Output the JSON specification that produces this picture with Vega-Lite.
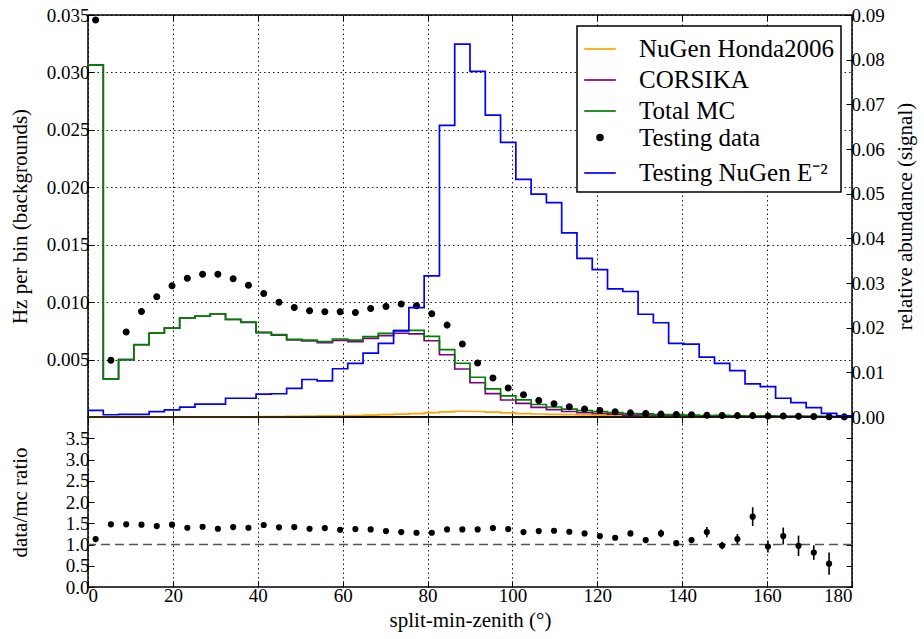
{
  "$schema": "https://vega.github.io/schema/vega-lite/v6.json",
  "padding": {"left": 8, "top": 5, "right": 5, "bottom": 5},
  "bounds": "flush",
  "spacing": 0,
  "datasets": {
    "bins": [
      {"lo": 0, "mid": 1.8, "honda": 0.00001, "corsika": 0.03065, "total": 0.03066, "data": 0.03457, "signal": 0.0015, "ratio": 1.127, "rlo": 1.117, "rhi": 1.137},
      {"lo": 3.6, "mid": 5.4, "honda": 0.00001, "corsika": 0.00331, "total": 0.00332, "data": 0.00494, "signal": 0.0005, "ratio": 1.474, "rlo": 1.45, "rhi": 1.5},
      {"lo": 7.2, "mid": 9.0, "honda": 0.00001, "corsika": 0.00499, "total": 0.005, "data": 0.0074, "signal": 0.0006, "ratio": 1.474, "rlo": 1.455, "rhi": 1.493},
      {"lo": 10.8, "mid": 12.6, "honda": 0.00001, "corsika": 0.00629, "total": 0.0063, "data": 0.00919, "signal": 0.0006, "ratio": 1.466, "rlo": 1.45, "rhi": 1.482},
      {"lo": 14.4, "mid": 16.2, "honda": 0.00001, "corsika": 0.0073, "total": 0.00731, "data": 0.01047, "signal": 0.0012, "ratio": 1.434, "rlo": 1.42, "rhi": 1.448},
      {"lo": 18.0, "mid": 19.8, "honda": 0.00001, "corsika": 0.00773, "total": 0.00774, "data": 0.01142, "signal": 0.0016, "ratio": 1.466, "rlo": 1.452, "rhi": 1.48},
      {"lo": 21.6, "mid": 23.4, "honda": 0.00001, "corsika": 0.0086, "total": 0.00861, "data": 0.01208, "signal": 0.0022, "ratio": 1.395, "rlo": 1.382, "rhi": 1.408},
      {"lo": 25.2, "mid": 27.0, "honda": 0.00001, "corsika": 0.00877, "total": 0.00878, "data": 0.01243, "signal": 0.0029, "ratio": 1.418, "rlo": 1.405, "rhi": 1.431},
      {"lo": 28.8, "mid": 30.6, "honda": 0.00001, "corsika": 0.00898, "total": 0.00899, "data": 0.01243, "signal": 0.0029, "ratio": 1.371, "rlo": 1.358, "rhi": 1.384},
      {"lo": 32.4, "mid": 34.2, "honda": 0.00001, "corsika": 0.00849, "total": 0.0085, "data": 0.01203, "signal": 0.0042, "ratio": 1.41, "rlo": 1.397, "rhi": 1.423},
      {"lo": 36.0, "mid": 37.8, "honda": 0.00002, "corsika": 0.00824, "total": 0.00826, "data": 0.01148, "signal": 0.0042, "ratio": 1.395, "rlo": 1.382, "rhi": 1.408},
      {"lo": 39.6, "mid": 41.4, "honda": 0.00003, "corsika": 0.00734, "total": 0.00737, "data": 0.01076, "signal": 0.0051, "ratio": 1.458, "rlo": 1.444, "rhi": 1.472},
      {"lo": 43.2, "mid": 45.0, "honda": 0.00004, "corsika": 0.00713, "total": 0.00717, "data": 0.01, "signal": 0.0052, "ratio": 1.403, "rlo": 1.389, "rhi": 1.417},
      {"lo": 46.8, "mid": 48.6, "honda": 0.00005, "corsika": 0.00671, "total": 0.00676, "data": 0.00954, "signal": 0.0064, "ratio": 1.41, "rlo": 1.395, "rhi": 1.425},
      {"lo": 50.4, "mid": 52.2, "honda": 0.00007, "corsika": 0.00663, "total": 0.0067, "data": 0.00925, "signal": 0.0084, "ratio": 1.371, "rlo": 1.356, "rhi": 1.386},
      {"lo": 54.0, "mid": 55.8, "honda": 0.00009, "corsika": 0.00647, "total": 0.00656, "data": 0.00917, "signal": 0.0081, "ratio": 1.387, "rlo": 1.372, "rhi": 1.402},
      {"lo": 57.6, "mid": 59.4, "honda": 0.00011, "corsika": 0.00668, "total": 0.00679, "data": 0.00917, "signal": 0.0108, "ratio": 1.348, "rlo": 1.333, "rhi": 1.363},
      {"lo": 61.2, "mid": 63.0, "honda": 0.00013, "corsika": 0.00657, "total": 0.0067, "data": 0.0091, "signal": 0.012, "ratio": 1.363, "rlo": 1.348, "rhi": 1.378},
      {"lo": 64.8, "mid": 66.6, "honda": 0.00016, "corsika": 0.00684, "total": 0.007, "data": 0.00945, "signal": 0.0143, "ratio": 1.355, "rlo": 1.34, "rhi": 1.37},
      {"lo": 68.4, "mid": 70.2, "honda": 0.0002, "corsika": 0.00708, "total": 0.00728, "data": 0.00963, "signal": 0.0165, "ratio": 1.316, "rlo": 1.301, "rhi": 1.331},
      {"lo": 72.0, "mid": 73.8, "honda": 0.00025, "corsika": 0.00729, "total": 0.00754, "data": 0.00983, "signal": 0.0193, "ratio": 1.292, "rlo": 1.277, "rhi": 1.307},
      {"lo": 75.6, "mid": 77.4, "honda": 0.0003, "corsika": 0.00724, "total": 0.00754, "data": 0.00969, "signal": 0.0245, "ratio": 1.277, "rlo": 1.262, "rhi": 1.292},
      {"lo": 79.2, "mid": 81.0, "honda": 0.00038, "corsika": 0.00664, "total": 0.00702, "data": 0.00899, "signal": 0.0316, "ratio": 1.277, "rlo": 1.261, "rhi": 1.293},
      {"lo": 82.8, "mid": 84.6, "honda": 0.00045, "corsika": 0.00542, "total": 0.00587, "data": 0.008, "signal": 0.0653, "ratio": 1.355, "rlo": 1.338, "rhi": 1.372},
      {"lo": 86.4, "mid": 88.2, "honda": 0.0005, "corsika": 0.00418, "total": 0.00468, "data": 0.00635, "signal": 0.0835, "ratio": 1.355, "rlo": 1.336, "rhi": 1.374},
      {"lo": 90.0, "mid": 91.8, "honda": 0.00048, "corsika": 0.00298, "total": 0.00346, "data": 0.0047, "signal": 0.0774, "ratio": 1.355, "rlo": 1.333, "rhi": 1.377},
      {"lo": 93.6, "mid": 95.4, "honda": 0.00042, "corsika": 0.00203, "total": 0.00245, "data": 0.0034, "signal": 0.0676, "ratio": 1.387, "rlo": 1.36, "rhi": 1.414},
      {"lo": 97.2, "mid": 99.0, "honda": 0.00036, "corsika": 0.00148, "total": 0.00184, "data": 0.00253, "signal": 0.0615, "ratio": 1.363, "rlo": 1.333, "rhi": 1.393},
      {"lo": 100.8, "mid": 102.6, "honda": 0.0003, "corsika": 0.00119, "total": 0.00149, "data": 0.00193, "signal": 0.0532, "ratio": 1.292, "rlo": 1.26, "rhi": 1.324},
      {"lo": 104.4, "mid": 106.2, "honda": 0.00026, "corsika": 0.00083, "total": 0.00109, "data": 0.00144, "signal": 0.0499, "ratio": 1.316, "rlo": 1.28, "rhi": 1.352},
      {"lo": 108.0, "mid": 109.8, "honda": 0.00022, "corsika": 0.00065, "total": 0.00087, "data": 0.00115, "signal": 0.048, "ratio": 1.324, "rlo": 1.284, "rhi": 1.364},
      {"lo": 111.6, "mid": 113.4, "honda": 0.0002, "corsika": 0.00048, "total": 0.00068, "data": 0.00089, "signal": 0.0412, "ratio": 1.3, "rlo": 1.255, "rhi": 1.345},
      {"lo": 115.2, "mid": 117.0, "honda": 0.00018, "corsika": 0.00037, "total": 0.00055, "data": 0.00069, "signal": 0.0355, "ratio": 1.261, "rlo": 1.21, "rhi": 1.312},
      {"lo": 118.8, "mid": 120.6, "honda": 0.00016, "corsika": 0.00032, "total": 0.00048, "data": 0.00057, "signal": 0.033, "ratio": 1.198, "rlo": 1.143, "rhi": 1.253},
      {"lo": 122.4, "mid": 124.2, "honda": 0.00014, "corsika": 0.00025, "total": 0.00039, "data": 0.00045, "signal": 0.0287, "ratio": 1.158, "rlo": 1.098, "rhi": 1.218},
      {"lo": 126.0, "mid": 127.8, "honda": 0.00012, "corsika": 0.00017, "total": 0.00029, "data": 0.00036, "signal": 0.0281, "ratio": 1.261, "rlo": 1.196, "rhi": 1.326},
      {"lo": 129.6, "mid": 131.4, "honda": 0.0001, "corsika": 0.00018, "total": 0.00028, "data": 0.00031, "signal": 0.023, "ratio": 1.103, "rlo": 1.033, "rhi": 1.173},
      {"lo": 133.2, "mid": 135.0, "honda": 0.00008, "corsika": 0.00012, "total": 0.0002, "data": 0.00025, "signal": 0.0211, "ratio": 1.261, "rlo": 1.171, "rhi": 1.351},
      {"lo": 136.8, "mid": 138.6, "honda": 0.00007, "corsika": 0.00014, "total": 0.00021, "data": 0.00022, "signal": 0.0165, "ratio": 1.032, "rlo": 0.982, "rhi": 1.082},
      {"lo": 140.4, "mid": 142.2, "honda": 0.00006, "corsika": 0.00011, "total": 0.00017, "data": 0.00019, "signal": 0.0163, "ratio": 1.103, "rlo": 1.043, "rhi": 1.163},
      {"lo": 144.0, "mid": 145.8, "honda": 0.00005, "corsika": 0.000074, "total": 0.000124, "data": 0.00016, "signal": 0.0134, "ratio": 1.292, "rlo": 1.172, "rhi": 1.412},
      {"lo": 147.6, "mid": 149.4, "honda": 0.00004, "corsika": 0.000103, "total": 0.000143, "data": 0.00014, "signal": 0.012, "ratio": 0.977, "rlo": 0.887, "rhi": 1.067},
      {"lo": 151.2, "mid": 153.0, "honda": 0.00003, "corsika": 0.000076, "total": 0.000106, "data": 0.00012, "signal": 0.0104, "ratio": 1.127, "rlo": 1.007, "rhi": 1.247},
      {"lo": 154.8, "mid": 156.6, "honda": 0.000025, "corsika": 0.000048, "total": 0.000073, "data": 0.00012, "signal": 0.0074, "ratio": 1.655, "rlo": 1.435, "rhi": 1.875},
      {"lo": 158.4, "mid": 160.2, "honda": 0.00002, "corsika": 0.000074, "total": 0.000094, "data": 0.00009, "signal": 0.0068, "ratio": 0.953, "rlo": 0.813, "rhi": 1.093},
      {"lo": 162.0, "mid": 163.8, "honda": 0.000015, "corsika": 0.000052, "total": 0.000067, "data": 0.00008, "signal": 0.0042, "ratio": 1.198, "rlo": 0.998, "rhi": 1.398},
      {"lo": 165.6, "mid": 167.4, "honda": 0.000012, "corsika": 0.00005, "total": 0.000062, "data": 0.00006, "signal": 0.0032, "ratio": 0.969, "rlo": 0.729, "rhi": 1.209},
      {"lo": 169.2, "mid": 171.0, "honda": 0.00001, "corsika": 0.000039, "total": 0.000049, "data": 0.00004, "signal": 0.0021, "ratio": 0.81, "rlo": 0.64, "rhi": 0.98},
      {"lo": 172.8, "mid": 174.6, "honda": 0.000008, "corsika": 0.000037, "total": 0.000045, "data": 0.000025, "signal": 0.0008, "ratio": 0.55, "rlo": 0.29, "rhi": 0.81},
      {"lo": 176.4, "mid": 178.2, "honda": 0.000005, "corsika": 0.000015, "total": 0.00002, "data": 0.00001, "signal": 0.00025, "ratio": null, "rlo": null, "rhi": null},
      {"lo": 180, "mid": null, "honda": 0.000005, "corsika": 0.000015, "total": 0.00002, "data": null, "signal": 0.00025, "ratio": null, "rlo": null, "rhi": null}
    ]
  },
  "vconcat": [
    {
      "width": 764,
      "height": 402,
      "layer": [
        {
          "layer": [
            {
              "data": {"name": "bins"},
              "mark": {"type": "line", "interpolate": "step-after", "strokeWidth": 1.7, "color": "#FFA500"},
              "encoding": {
                "x": {"field": "lo", "type": "quantitative", "scale": {"domain": [0, 180], "nice": false, "zero": false},
                  "axis": {"orient": "bottom", "title": null, "labels": false, "values": [0, 20, 40, 60, 80, 100, 120, 140, 160, 180], "grid": true}},
                "y": {"field": "honda", "type": "quantitative", "scale": {"domain": [0, 0.035], "nice": false},
                  "axis": {"orient": "left", "title": "Hz per bin (backgrounds)", "values": [0.005, 0.01, 0.015, 0.02, 0.025, 0.03, 0.035], "format": ".3f", "grid": true, "titleX": -68, "titleBaseline": "middle"}}
              }
            },
            {
              "data": {"name": "bins"},
              "mark": {"type": "line", "interpolate": "step-after", "strokeWidth": 1.7, "color": "#800080"},
              "encoding": {
                "x": {"field": "lo", "type": "quantitative"},
                "y": {"field": "corsika", "type": "quantitative"}
              }
            },
            {
              "data": {"name": "bins"},
              "mark": {"type": "line", "interpolate": "step-after", "strokeWidth": 1.7, "color": "#008000"},
              "encoding": {
                "x": {"field": "lo", "type": "quantitative"},
                "y": {"field": "total", "type": "quantitative"}
              }
            },
            {
              "data": {"name": "bins"},
              "transform": [{"fold": ["data"], "as": ["key", "value"]}, {"filter": "isValid(datum.value)"}],
              "mark": {"type": "point", "filled": true, "opacity": 1, "strokeWidth": 1.2},
              "encoding": {
                "x": {"field": "mid", "type": "quantitative"},
                "y": {"field": "value", "type": "quantitative"},
                "color": {"field": "key", "type": "nominal",
                  "scale": {"domain": ["honda", "corsika", "total", "data", "signal"], "range": ["#FFA500", "#800080", "#008000", "#000000", "#0000FF"]},
                  "legend": {
                    "title": null, "orient": "top-right", "offset": 11,
                    "labelExpr": "{'honda':'NuGen Honda2006','corsika':'CORSIKA','total':'Total MC','data':'Testing data','signal':'Testing NuGen E⁻²'}[datum.label]",
                    "labelFontSize": 25, "labelFont": "Liberation Serif", "labelColor": "black", "labelLimit": 400,
                    "symbolStrokeWidth": 1.7, "gridAlign": "all",
                    "strokeColor": "black", "fillColor": "white", "padding": 6, "rowPadding": 1, "labelOffset": 22, "cornerRadius": 0
                  }
                },
                "stroke": {"field": "key", "type": "nominal",
                  "scale": {"domain": ["honda", "corsika", "total", "data", "signal"], "range": ["#FFA500", "#800080", "#008000", "#000000", "#0000FF"]},
                  "legend": {"title": null}},
                "shape": {"field": "key", "type": "nominal",
                  "scale": {"domain": ["honda", "corsika", "total", "data", "signal"], "range": ["stroke", "stroke", "stroke", "circle", "stroke"]},
                  "legend": {"title": null}},
                "size": {"field": "key", "type": "nominal",
                  "scale": {"type": "ordinal", "domain": ["honda", "corsika", "total", "data", "signal"], "range": [1000, 1000, 1000, 34, 1000]},
                  "legend": {"title": null}}
              }
            }
          ]
        },
        {
          "data": {"name": "bins"},
          "mark": {"type": "line", "interpolate": "step-after", "strokeWidth": 1.7, "color": "#0000FF"},
          "encoding": {
            "x": {"field": "lo", "type": "quantitative",
              "axis": {"orient": "top", "title": null, "labels": false, "grid": false, "values": [0, 20, 40, 60, 80, 100, 120, 140, 160, 180]}},
            "y": {"field": "signal", "type": "quantitative", "scale": {"domain": [0, 0.09], "nice": false},
              "axis": {"orient": "right", "title": "relative abundance (signal)", "values": [0, 0.01, 0.02, 0.03, 0.04, 0.05, 0.06, 0.07, 0.08, 0.09], "format": ".2f", "grid": false, "titleAngle": 270, "titleX": 53, "titleBaseline": "middle"}}
          }
        }
      ],
      "resolve": {"scale": {"y": "independent"}, "axis": {"x": "independent"}}
    },
    {
      "width": 764,
      "height": 170,
      "data": {"name": "bins"},
      "layer": [
        {
          "transform": [{"filter": "datum.lo == 0"}],
          "mark": {"type": "rule", "strokeDash": [9, 5], "color": "#555555", "strokeWidth": 1.5},
          "encoding": {
            "y": {"datum": 1, "type": "quantitative", "scale": {"domain": [0, 4], "nice": false},
              "axis": {"orient": "right", "labels": false, "title": null, "values": [0, 0.5, 1, 1.5, 2, 2.5, 3, 3.5]}}
          }
        },
        {
          "transform": [{"filter": "isValid(datum.ratio)"}],
          "mark": {"type": "rule", "color": "black", "strokeWidth": 1.6},
          "encoding": {
            "x": {"field": "mid", "type": "quantitative", "scale": {"domain": [0, 180], "nice": false, "zero": false},
              "axis": {"orient": "top", "labels": false, "title": null, "values": [0, 20, 40, 60, 80, 100, 120, 140, 160, 180]}},
            "y": {"field": "rlo", "type": "quantitative", "axis": null},
            "y2": {"field": "rhi"}
          }
        },
        {
          "transform": [{"filter": "isValid(datum.ratio)"}],
          "mark": {"type": "point", "filled": true, "size": 38, "color": "black", "opacity": 1},
          "encoding": {
            "x": {"field": "mid", "type": "quantitative",
              "axis": {"orient": "bottom", "title": "split-min-zenith (°)", "values": [0, 20, 40, 60, 80, 100, 120, 140, 160, 180]}},
            "y": {"field": "ratio", "type": "quantitative",
              "axis": {"orient": "left", "title": "data/mc ratio", "values": [0, 0.5, 1, 1.5, 2, 2.5, 3, 3.5], "format": ".1f", "titleX": -68, "titleBaseline": "middle"}}
          }
        }
      ],
      "resolve": {"axis": {"x": "independent", "y": "independent"}}
    }
  ],
  "config": {
    "font": "Liberation Serif",
    "view": {"stroke": "black", "strokeWidth": 1.5},
    "axis": {
      "domain": false, "tickSize": -6, "tickColor": "black", "tickWidth": 1, "labelPadding": 5,
      "labelFont": "Liberation Serif", "titleFont": "Liberation Serif",
      "labelFontSize": 19, "titleFontSize": 21, "titleFontWeight": "normal",
      "labelColor": "black", "titleColor": "black",
      "gridColor": "black", "gridDash": [1.5, 3], "gridWidth": 1, "gridOpacity": 0.9
    },
    "legend": {"strokeWidth": 1.5}
  }
}
